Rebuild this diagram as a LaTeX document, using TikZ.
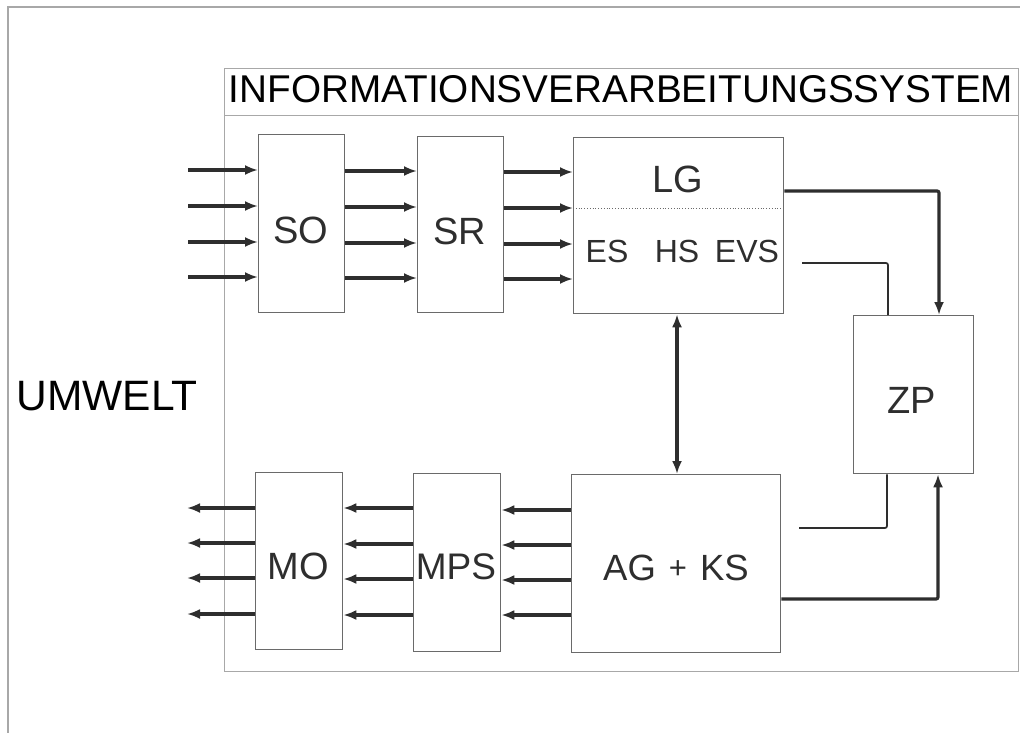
\documentclass[tikz,border=0pt]{standalone}
\usepackage{fontspec}
\setmainfont{Liberation Sans}
\usetikzlibrary{arrows.meta}
\definecolor{boxgray}{HTML}{6A6A6A}
\definecolor{framegray}{HTML}{A8A8A8}
\definecolor{ink}{HTML}{2E2E2E}
\begin{document}
\begin{tikzpicture}[x=1pt,y=-1pt,
  blk/.style={draw=boxgray,line width=1.3pt,inner sep=0pt,anchor=north west},
  lbl/.style={inner sep=0pt,text=ink,font=\fontsize{38}{42}\selectfont},
  slbl/.style={inner sep=0pt,text=ink,font=\fontsize{32}{36}\selectfont},
  big/.style={inner sep=0pt,text=black,font=\fontsize{42.5}{46}\selectfont},
  ttl/.style={inner sep=0pt,text=black,font=\fontsize{38.7}{44}\selectfont},
  arr/.style={draw=ink,line width=3.2pt,-{Latex[length=13pt,width=10pt]}},
  darr/.style={draw=ink,line width=3.2pt,{Latex[length=13pt,width=10pt]}-{Latex[length=13pt,width=10pt]}},
  thin line/.style={draw=ink,line width=1.7pt}
]
\useasboundingbox (0,0) rectangle (1020,733);
\fill[white] (0,0) rectangle (1020,733);
% outer frame
\draw[framegray,line width=2pt] (8,733) -- (8,7) -- (1020,7);
% system box
\node[blk,draw=framegray,minimum width=794pt,minimum height=603pt] (sys) at (224,68) {};
\node[blk,draw=framegray,minimum width=794pt,minimum height=47pt] (title) at (224,68) {};
\node[ttl] (titletext) at (621,89) {INFORMATIONSVERARBEITUNGSSYSTEM};
\node[big] (umwelt) at (107,396) {UMWELT};
% blocks
\node[blk,minimum width=86pt,minimum height=178pt] (so) at (258,134) {};
\node[blk,minimum width=86pt,minimum height=176pt] (sr) at (417,136) {};
\node[blk,minimum width=210pt,minimum height=176pt] (lg) at (573,137) {};
\node[blk,minimum width=120pt,minimum height=158pt] (zp) at (853,315) {};
\node[blk,minimum width=209pt,minimum height=178pt] (ag) at (571,474) {};
\node[blk,minimum width=87pt,minimum height=177pt] (mo) at (255,472) {};
\node[blk,minimum width=87pt,minimum height=178pt] (mps) at (413,473) {};
% labels
\node[lbl] (solbl) at (301,230) {SO};
\node[lbl] (srlbl) at (460,231) {SR};
\node[lbl] (lglbl) at (678,179) {LG};
\node[slbl] (eslbl) at (607,251.5) {ES};
\node[slbl] (hslbl) at (677,251.5) {HS};
\node[slbl] (evslbl) at (747,251.5) {EVS};
\node[lbl] (zplbl) at (912,400) {ZP};
\node[lbl,font=\fontsize{36.5}{40}\selectfont] (aglbl) at (676,568) {AG\hspace{13pt}\raisebox{2.5pt}{\fontsize{31}{32}\selectfont+}\hspace{13pt}KS};
\node[lbl] (molbl) at (298,566) {MO};
\node[lbl,font=\fontsize{37}{40}\selectfont] (mpslbl) at (456,567) {MPS};
% dotted separator in LG
\draw[boxgray,line width=0.8pt,dotted] (lg.west |- 0,208) -- (lg.east |- 0,208);
% inputs
\foreach \y [count=\i] in {170,206,242,277} {
  \coordinate (in\i) at (188,\y);
  \draw[arr] (in\i) -- (so.west |- in\i);
}
\foreach \y in {171,207,243,278} \draw[arr] (so.east |- 0,\y) -- (sr.west |- 0,\y);
\foreach \y in {172,208,244,279} \draw[arr] (sr.east |- 0,\y) -- (lg.west |- 0,\y);
% outputs
\foreach \y [count=\i] in {508,543,578,614} {
  \coordinate (out\i) at (187,\y);
  \draw[arr] (mo.west |- out\i) -- (out\i);
}
\foreach \y in {508,544,579,615} \draw[arr] (mps.west |- 0,\y) -- (mo.east |- 0,\y);
\foreach \y in {510,545,580,615} \draw[arr] (ag.west |- 0,\y) -- (mps.east |- 0,\y);
% LG <-> AG
\draw[darr] (lg.south -| 677,0) -- (ag.north -| 677,0);
% LG -> ZP
\draw[arr,rounded corners=2pt] (lg.east |- 0,191) -| (zp.north -| 939,0);
% EVS -- ZP thin
\coordinate (evsend) at (802,263);
\draw[thin line,rounded corners=2pt] (evsend) -| (zp.north -| 888,0);
% ZP -- thin to AG side
\coordinate (agend) at (799,528);
\draw[thin line,rounded corners=2pt] (zp.south -| 887,0) |- (agend);
% AG -> ZP
\draw[arr,rounded corners=2pt] (ag.east |- 0,599) -| (zp.south -| 938,0);
\end{tikzpicture}
\end{document}
